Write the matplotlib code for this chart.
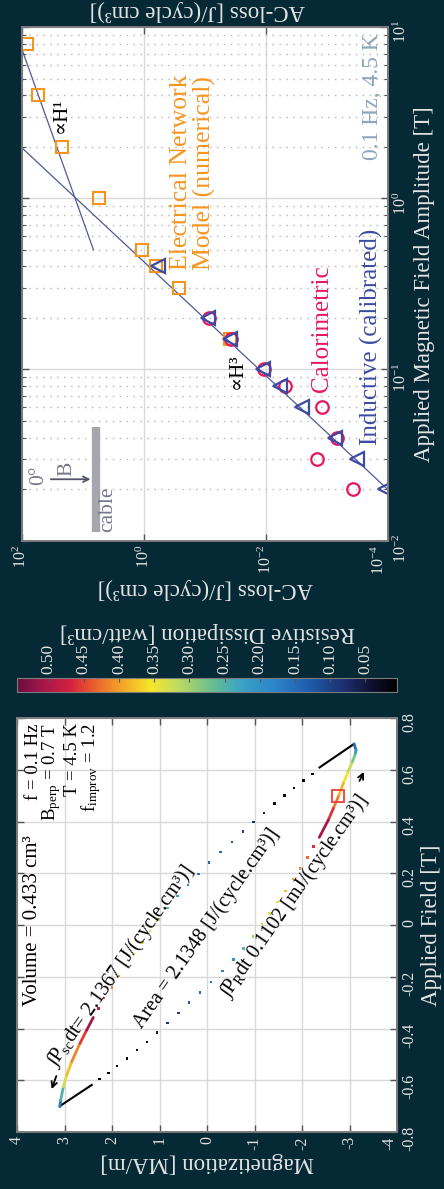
import matplotlib
matplotlib.use('Agg')
import matplotlib.pyplot as plt
from matplotlib.colors import LinearSegmentedColormap, Normalize
from matplotlib.collections import LineCollection
from matplotlib.ticker import FixedLocator, NullLocator, LogLocator
import matplotlib.cm as cm
import numpy as np

plt.rcParams['font.family'] = ['Liberation Serif', 'DejaVu Serif']
plt.rcParams['mathtext.fontset'] = 'custom'
plt.rcParams['mathtext.rm'] = 'Liberation Serif'
plt.rcParams['mathtext.it'] = 'Liberation Serif:italic'
plt.rcParams['axes.unicode_minus'] = False

BG = '#052935'
FG = '#e4e4e4'
ORANGE = '#f7941d'
PINK = '#e8175d'
INDIGO = '#3b4ba3'

# --- AC-loss vs field amplitude ---
enm_field = [8.0, 4.0, 2.0, 1.0, 0.5, 0.4, 0.3, 0.15]
enm_loss = [82.8, 53.5, 22.1, 5.37, 1.09, 0.64, 0.264, 0.039]

ind_field = [0.4, 0.2, 0.15, 0.1, 0.08, 0.06, 0.04, 0.03, 0.02]
ind_loss = [0.58, 0.088, 0.039, 0.0111, 0.0059, 0.0026, 7.5e-4, 3.3e-4, 1.13e-4]

cal_field = [0.2, 0.15, 0.1, 0.08, 0.06, 0.04, 0.03, 0.02]
cal_loss = [0.085, 0.037, 0.0108, 0.0049, 0.00123, 6.8e-4, 1.49e-3, 3.74e-4]

fit3_field = [0.019, 2.0]
fit3_loss = [8.9e-5, 104.0]
fit1_field = [0.5, 8.0]
fit1_loss = [6.7, 107.0]

# --- hysteresis loop: applied field B [T], magnetization M [MA/m], dissipation P [W/cm3] ---
# rising branch, dense part near the negative tip
up_line_B = [-0.702, -0.676, -0.625, -0.580, -0.528, -0.457, -0.406, -0.357]
up_line_M = [3.095, 3.080, 3.025, 2.954, 2.848, 2.674, 2.533, 2.394]
up_line_P = [0.12, 0.20, 0.30, 0.36, 0.40, 0.43, 0.48, 0.53]
# rising branch, sparse samples
up_dot_B = [-0.322, -0.281, -0.241, -0.197, -0.155, -0.112, -0.067, -0.023, 0.022,
            0.067, 0.112, 0.155, 0.197, 0.241, 0.282, 0.322, 0.361, 0.398, 0.434,
            0.469, 0.501, 0.529, 0.558, 0.584]
up_dot_M = [2.288, 2.168, 2.006, 1.853, 1.705, 1.537, 1.362, 1.200, 1.025,
            0.836, 0.625, 0.406, 0.183, -0.048, -0.288, -0.520, -0.752, -0.975, -1.200,
            -1.417, -1.627, -1.832, -2.027, -2.217]
up_dot_P = [0.48, 0.44, 0.42, 0.40, 0.38, 0.36, 0.34, 0.33, 0.32,
            0.27, 0.22, 0.18, 0.16, 0.15, 0.14, 0.12, 0.10, 0.08, 0.06,
            0.04, 0.02, 0.01, 0.01, 0.01]
up_flat_B = [0.609, 0.700]
up_flat_M = [-2.368, -3.095]

# falling branch, dense part near the positive tip
dn_line_B = [0.700, 0.676, 0.657, 0.625, 0.586, 0.548, 0.496, 0.451, 0.406, 0.339]
dn_line_M = [-3.095, -3.137, -3.116, -3.046, -2.954, -2.870, -2.764, -2.659, -2.554, -2.364]
dn_line_P = [0.12, 0.18, 0.25, 0.30, 0.34, 0.37, 0.40, 0.44, 0.48, 0.53]
# falling branch, sparse samples
dn_dot_B = [0.303, 0.261, 0.219, 0.177, 0.131, 0.088, 0.045, 0.003, -0.044,
            -0.090, -0.133, -0.177, -0.219, -0.260, -0.300, -0.341, -0.379, -0.416,
            -0.451, -0.483, -0.515, -0.545, -0.571, -0.595]
dn_dot_M = [-2.238, -2.116, -1.958, -1.804, -1.649, -1.480, -1.312, -1.152, -0.962,
            -0.764, -0.554, -0.322, -0.084, 0.147, 0.373, 0.604, 0.832, 1.059,
            1.269, 1.480, 1.690, 1.901, 2.078, 2.267]
dn_dot_P = [0.46, 0.43, 0.41, 0.40, 0.38, 0.35, 0.34, 0.33, 0.30,
            0.25, 0.20, 0.18, 0.16, 0.15, 0.13, 0.10, 0.08, 0.06,
            0.03, 0.02, 0.01, 0.01, 0.01, 0.01]
dn_flat_B = [-0.618, -0.700]
dn_flat_M = [2.427, 3.100]

marker_B = [0.5]
marker_M = [-2.764]

p_min, p_max = 0.005, 0.545
cbar_ticks = [0.05, 0.10, 0.15, 0.20, 0.25, 0.30, 0.35, 0.40, 0.45, 0.50]

cmap = LinearSegmentedColormap.from_list('dissip', [
    (0.0, '#000000'), (0.058, '#0d0d2a'), (0.137, '#1c2e6e'), (0.229, '#1f5bab'),
    (0.321, '#2b84c8'), (0.413, '#3ba3c4'), (0.492, '#6cc08c'), (0.584, '#c6dc5c'),
    (0.65, '#f6e628'), (0.755, '#f08a2a'), (0.808, '#e85530'), (0.861, '#d4203f'),
    (0.939, '#a0164a'), (1.0, '#6a0d3c')])
norm = Normalize(p_min, p_max)

TICK_FS = 11.5
LABEL_FS = 16.5

fig = plt.figure(figsize=(4.44, 11.89), dpi=100, facecolor=BG)


def style_axes(ax):
    ax.set_facecolor('white')
    for s in ax.spines.values():
        s.set_color('#7c7c7c')
        s.set_linewidth(1.4)
    ax.tick_params(which='both', direction='in', colors='#555555',
                   labelcolor=FG, labelsize=TICK_FS, top=True, bottom=True,
                   left=True, right=True, labelleft=False, labelright=True,
                   labelrotation=90, pad=3)
    ax.tick_params(which='major', length=5, width=1)
    ax.tick_params(which='minor', length=3, width=0.8)


# ---------------- AC-loss panel ----------------
ax1 = fig.add_axes([0.0489, 0.5453, 0.8257, 0.4320])
style_axes(ax1)
ax1.set_xscale('log')
ax1.set_yscale('log')
ax1.set_xlim(1e2, 1e-4)
ax1.set_ylim(1e-2, 1e1)
ax1.xaxis.set_major_locator(FixedLocator([1e2, 1e0, 1e-2, 1e-4]))
ax1.xaxis.set_minor_locator(NullLocator())
ax1.yaxis.set_major_locator(LogLocator(base=10))
ax1.yaxis.set_minor_locator(LogLocator(base=10, subs=np.arange(2, 10)))
ax1.yaxis.set_label_position('right')
ax1.grid(which='major', color='#d9d9d9', lw=1.0, ls='-')
ax1.grid(which='minor', axis='y', color='#b5b5b5', lw=1.0, ls=(0, (1, 4)))
ax1.set_axisbelow(True)
# keep the corner label clear of the right-hand tick column
ax1.get_xticklabels()[-1].set_ha('right')

ax1.plot(fit3_loss, fit3_field, color='#4d5b96', lw=0.9)
ax1.plot(fit1_loss, fit1_field, color='#4d5b96', lw=0.9)
ax1.plot(enm_loss, enm_field, ls='none', marker='s', ms=8, mfc='none',
         mec=ORANGE, mew=1.5)
ax1.plot(cal_loss, cal_field, ls='none', marker='o', ms=9, mfc='none',
         mec=PINK, mew=1.6)
ax1.plot(ind_loss, ind_field, ls='none', marker='<', ms=10, mfc='none',
         mec=INDIGO, mew=1.6)

ax1.set_xlabel('AC-loss [J/(cycle cm³)]', rotation=180, color=FG, fontsize=LABEL_FS,
               labelpad=2)
ax1.set_ylabel('Applied Magnetic Field Amplitude [T]', rotation=90, color=FG,
               fontsize=LABEL_FS, labelpad=3)

t1 = dict(transform=ax1.transAxes, rotation=90, rotation_mode='anchor')
ax1.text(0.107, 0.829, '∝H¹', ha='center', va='center', fontsize=15, color='black', **t1)
ax1.text(0.587, 0.33, '∝H³', ha='center', va='center', fontsize=15, color='black', **t1)
ax1.text(0.466, 0.527, 'Electrical Network\nModel (numerical)', ha='left', va='center',
         fontsize=18.5, color=ORANGE, linespacing=1.05, **t1)
ax1.text(0.819, 0.2895, 'Calorimetric', ha='left', va='center', fontsize=18,
         color=PINK, **t1)
ax1.text(0.953, 0.186, 'Inductive (calibrated)', ha='left', va='center', fontsize=18,
         color=INDIGO, **t1)
ax1.text(0.956, 0.988, '0.1 Hz, 4.5 K', ha='right', va='center', fontsize=17,
         color='#8ea6bd', **t1)

# field orientation sketch
ax1.text(0.046, 0.127, '0°', ha='center', va='center', fontsize=15.5, color='#77778a', **t1)
ax1.text(0.123, 0.139, 'B', ha='center', va='center', fontsize=15.5, color='#77778a', **t1)
ax1.text(0.2354, 0.0607, 'cable', ha='center', va='center', fontsize=15.5,
         color='#77778a', **t1)
ax1.annotate('', xy=(0.1953, 0.1195), xytext=(0.0717, 0.1195), xycoords='axes fraction',
             arrowprops=dict(arrowstyle='->', color='#55556a', lw=1.3))
ax1.plot([0.2019, 0.2019], [0.0175, 0.222], transform=ax1.transAxes, color='#a6a6ae',
         lw=6, solid_capstyle='butt')

fig.text(197 / 444, 1 - 11 / 1189, 'AC-loss [J/(cycle cm³)]', rotation=180,
         ha='center', va='center', color=FG, fontsize=LABEL_FS)

# ---------------- colorbar ----------------
cax = fig.add_axes([0.0383, 0.4177, 0.8559, 0.0123])
sm = cm.ScalarMappable(norm=norm, cmap=cmap)
cb = fig.colorbar(sm, cax=cax, orientation='horizontal')
cb.set_ticks(cbar_ticks)
cb.ax.set_xticklabels([f'{v:.2f}' for v in cbar_ticks])
cb.ax.invert_xaxis()
cb.ax.xaxis.set_ticks_position('top')
cb.ax.xaxis.set_label_position('top')
cb.ax.tick_params(direction='in', length=3, colors='#555555', labelcolor=FG,
                  labelsize=12.5, labelrotation=90, pad=3)
cb.outline.set_edgecolor('#7c7c7c')
cb.set_label('Resistive Dissipation [watt/cm³]', rotation=180, color=FG,
             fontsize=LABEL_FS, labelpad=4)

# ---------------- hysteresis panel ----------------
ax2 = fig.add_axes([0.0383, 0.0479, 0.8559, 0.3482])
style_axes(ax2)
ax2.set_xlim(4, -4)
ax2.set_ylim(-0.8, 0.8)
ax2.set_xticks(range(4, -5, -1))
ax2.set_yticks([-0.8, -0.6, -0.4, -0.2, 0, 0.2, 0.4, 0.6, 0.8])
ax2.set_yticklabels(['-0.8', '-0.6', '-0.4', '-0.2', '0', '0.2', '0.4', '0.6', '0.8'])
ax2.yaxis.set_label_position('right')
ax2.grid(color='#d9d9d9', lw=1.0)
ax2.set_axisbelow(True)
ax2.get_xticklabels()[-1].set_ha('right')


def colored_line(ax, xs, ys, ps):
    pts = np.column_stack([xs, ys])
    segs = np.stack([pts[:-1], pts[1:]], axis=1)
    vals = (np.array(ps[:-1]) + np.array(ps[1:])) / 2
    lc = LineCollection(segs, cmap=cmap, norm=norm, lw=2.0, capstyle='round')
    lc.set_array(vals)
    ax.add_collection(lc)


ax2.plot(up_flat_M, up_flat_B, color='black', lw=1.5)
ax2.plot(dn_flat_M, dn_flat_B, color='black', lw=1.5)
colored_line(ax2, up_line_M, up_line_B, up_line_P)
colored_line(ax2, dn_line_M, dn_line_B, dn_line_P)
ax2.scatter(up_dot_M, up_dot_B, c=up_dot_P, cmap=cmap, norm=norm, marker='s', s=3,
            linewidths=0)
ax2.scatter(dn_dot_M, dn_dot_B, c=dn_dot_P, cmap=cmap, norm=norm, marker='s', s=3,
            linewidths=0)
ax2.plot(marker_M, marker_B, ls='none', marker='s', ms=8, mfc='none', mec='#e8413c',
         mew=1.3)

ax2.set_xlabel('Magnetization [MA/m]', rotation=180, color=FG, fontsize=LABEL_FS,
               labelpad=2)
ax2.set_ylabel('Applied Field [T]', rotation=90, color=FG, fontsize=LABEL_FS, labelpad=3)

t2 = dict(transform=ax2.transAxes, rotation_mode='anchor', color='black')
ax2.text(0.042, 0.511, 'Volume = 0.433 cm³', rotation=90, ha='center', va='center',
         fontsize=15, **t2)
ax2.text(0.043, 0.988, 'f = 0.1 Hz', rotation=90, ha='right', va='center',
         fontsize=13.5, **t2)
ax2.text(0.091, 0.988, 'B$_{\\rm perp}$ = 0.7 T', rotation=90, ha='right', va='center',
         fontsize=13.5, **t2)
ax2.text(0.145, 0.988, 'T = 4.5 K', rotation=90, ha='right', va='center',
         fontsize=13.5, **t2)
ax2.text(0.195, 0.988, 'f$_{\\rm improv}$ = 1.2', rotation=90, ha='right', va='center',
         fontsize=13.5, **t2)

ax2.text(0.271, 0.401, '∫P$_{\\rm sc}$dt= 2.1367 [J/(cycle.cm³)]', rotation=55,
         ha='center', va='center', fontsize=14.5, **t2)
ax2.text(0.499, 0.493, 'Area = 2.1348 [J/(cycle.cm³)]', rotation=55,
         ha='center', va='center', fontsize=14.5, **t2)
ax2.text(0.729, 0.568, '∫P$_{\\rm R}$dt 0.1102 [mJ/(cycle.cm³)]', rotation=55,
         ha='center', va='center', fontsize=14.5, **t2)
ax2.annotate('', xy=(0.0887, 0.0973), xytext=(0.106, 0.1418), xycoords='axes fraction',
             arrowprops=dict(arrowstyle='->', color='black', lw=1.3))
ax2.annotate('', xy=(0.916, 0.876), xytext=(0.898, 0.842), xycoords='axes fraction',
             arrowprops=dict(arrowstyle='->', color='black', lw=1.3))

fig.savefig('out.png', dpi=100, facecolor=BG)
